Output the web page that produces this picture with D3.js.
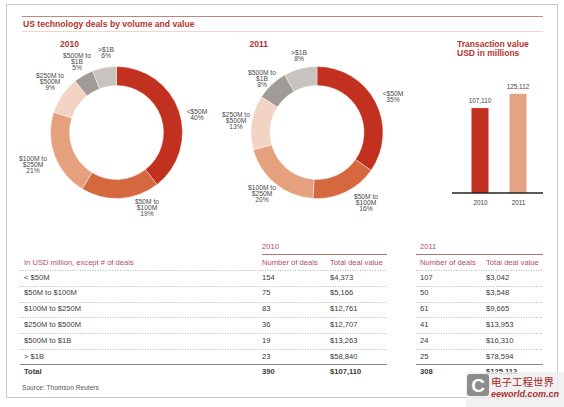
<!DOCTYPE html>
<html>
<head>
<meta charset="utf-8">
<script src="https://cdn.jsdelivr.net/npm/d3@7"></script>
<style>
body { margin: 0; background: #fff; }
svg { display: block; font-family: "Liberation Sans", Arial, Helvetica, sans-serif; }
</style>
</head>
<body>
<div id="chart"></div>
<script>
// data
var categories = ["< $50M", "$50M to $100M", "$100M to $250M", "$250M to $500M", "$500M to $1B", "> $1B"];
var donutLabels = [["<$50M"], ["$50M to", "$100M"], ["$100M to", "$250M"], ["$250M to", "$500M"], ["$500M to", "$1B"], [">$1B"]];
var deals2010 = [154, 75, 83, 36, 19, 23];
var value2010 = [4373, 5166, 12761, 12707, 13263, 58840];
var deals2011 = [107, 50, 61, 41, 24, 25];
var value2011 = [3042, 3548, 9665, 13953, 16310, 78594];
var pct2010 = [40, 19, 21, 9, 5, 6];
var pct2011 = [35, 16, 20, 13, 8, 8];
var years = ["2010", "2011"];
var totalValue = [107110, 125112];

var sliceColors = ["#c2311f", "#d5683f", "#e5a07e", "#f3d4c3", "#a19b97", "#c9c3bf"];
var barColors = ["#c2311f", "#e4a385"];
var red = "#b5342f", pink = "#b84a5c", ink = "#3a3a3a";

var width = 564, height = 407;

var svg = d3.select("#chart").append("svg")
	.attr("width", width)
	.attr("height", height);

// frame + title
svg.append("rect")
	.attr("x", 6.5).attr("y", 4.5)
	.attr("width", 551).attr("height", 393)
	.attr("fill", "none")
	.attr("stroke", "#c9c9c9");

svg.append("line").attr("x1", 22).attr("x2", 543).attr("y1", 16.5).attr("y2", 16.5)
	.attr("stroke", "#b98a80");
svg.append("line").attr("x1", 22).attr("x2", 543).attr("y1", 31.5).attr("y2", 31.5)
	.attr("stroke", "#ecd6cf");

svg.append("text")
	.attr("x", 23).attr("y", 27)
	.attr("font-size", 8.6).attr("font-weight", "bold")
	.attr("fill", red)
	.text("US technology deals by volume and value");

// donuts
var pie = d3.pie().sort(null).value(function(d){ return d; });
var arc = d3.arc().innerRadius(47).outerRadius(66);

var offsets2010 = [[80.5,-18.5],[30.5,71.5],[-83.5,28.5],[-66.5,-54.5],[-39.5,-74.5],[-10.5,-80.5]];
var offsets2011 = [[76,-36.5],[49,66.5],[-55,57.5],[-81,-15.5],[-55,-57.5],[-18,-77.5]];

function drawDonut(cx, cy, year, yearX, deals, pcts, offsets) {
	svg.append("text")
		.attr("x", yearX).attr("y", 47)
		.attr("font-size", 8.5).attr("font-weight", "bold")
		.attr("fill", red)
		.text(year);

	var g = svg.append("g")
		.attr("transform", "translate(" + cx + "," + cy + ")");

	g.selectAll("path")
		.data(pie(deals))
		.enter().append("path")
		.attr("d", arc)
		.attr("fill", function(d, i){ return sliceColors[i]; })
		.attr("stroke", "#fff")
		.attr("stroke-width", 0.4);

	var lab = g.selectAll("text.lab")
		.data(donutLabels)
		.enter().append("text")
		.attr("class", "lab")
		.attr("text-anchor", "middle")
		.attr("font-size", 6.7)
		.attr("fill", "#4a4a4a")
		.attr("transform", function(d, i){ return "translate(" + offsets[i][0] + "," + offsets[i][1] + ")"; });

	lab.each(function(lines, i) {
		var t = d3.select(this);
		lines.concat([pcts[i] + "%"]).forEach(function(s, k) {
			t.append("tspan").attr("x", 0).attr("y", k * 6).text(s);
		});
	});
}

drawDonut(116.5, 132.5, years[0], 60, deals2010, pct2010, offsets2010);
drawDonut(317, 132.5, years[1], 249.5, deals2011, pct2011, offsets2011);

// bar chart
svg.append("text")
	.attr("x", 457).attr("y", 47)
	.attr("font-size", 8.5).attr("font-weight", "bold")
	.attr("fill", red)
	.selectAll("tspan")
	.data(["Transaction value", "USD in millions"])
	.enter().append("tspan")
	.attr("x", 457).attr("dy", function(d, i){ return i ? 8.5 : 0; })
	.text(function(d){ return d; });

var bx = d3.scalePoint().domain(years).range([461, 537]).padding(0.5);
var by = d3.scaleLinear().domain([0, 140000]).range([193, 82]);
var barW = 17;

svg.selectAll("rect.bar")
	.data(totalValue)
	.enter().append("rect")
	.attr("class", "bar")
	.attr("x", function(d, i){ return bx(years[i]) - barW / 2; })
	.attr("y", function(d){ return by(d); })
	.attr("width", barW)
	.attr("height", function(d){ return by(0) - by(d); })
	.attr("fill", function(d, i){ return barColors[i]; });

svg.selectAll("text.barval")
	.data(totalValue)
	.enter().append("text")
	.attr("class", "barval")
	.attr("x", function(d, i){ return bx(years[i]); })
	.attr("y", function(d){ return by(d) - 5; })
	.attr("text-anchor", "middle")
	.attr("font-size", 6.4)
	.attr("fill", "#444")
	.text(d3.format(","));

var xAxis = svg.append("g")
	.attr("transform", "translate(0," + by(0) + ")")
	.call(d3.axisBottom(bx).tickSize(0).tickPadding(7));
xAxis.select(".domain").remove();
xAxis.append("line").attr("x1", 452).attr("x2", 543)
	.attr("stroke", "#222").attr("stroke-width", 1.4);
xAxis.selectAll(".tick text")
	.attr("font-family", "Liberation Sans, Arial, sans-serif")
	.attr("font-size", 6.4).attr("fill", "#444");

// table
var rowY = d3.scaleLinear().domain([0, 1]).range([279.5, 295.3]);
var cols = [24, 262, 330, 420, 486];

svg.append("text").attr("x", cols[1]).attr("y", 248.5)
	.attr("font-size", 7.6).attr("fill", pink).text(years[0]);
svg.append("text").attr("x", cols[3]).attr("y", 248.5)
	.attr("font-size", 7.6).attr("fill", pink).text(years[1]);
svg.append("line").attr("x1", 262).attr("x2", 387).attr("y1", 254.5).attr("y2", 254.5)
	.attr("stroke", "#a8786f");
svg.append("line").attr("x1", 416).attr("x2", 543).attr("y1", 254.5).attr("y2", 254.5)
	.attr("stroke", "#a8786f");

var headers = ["In USD million, except # of deals", "Number of deals", "Total deal value", "Number of deals", "Total deal value"];
svg.selectAll("text.hdr")
	.data(headers)
	.enter().append("text")
	.attr("class", "hdr")
	.attr("x", function(d, i){ return cols[i]; })
	.attr("y", 264.5)
	.attr("font-size", 7.6)
	.attr("fill", pink)
	.text(function(d){ return d; });

var money = function(v){ return "$" + d3.format(",")(v); };
var rows = categories.map(function(c, i) {
	return [c, deals2010[i], money(value2010[i]), deals2011[i], money(value2011[i])];
});
rows.push(["Total", d3.sum(deals2010), money(d3.sum(value2010)), d3.sum(deals2011), money(totalValue[1])]);

// separators
[[20, 387], [416, 543]].forEach(function(seg) {
	svg.selectAll(null)
		.data(d3.range(6))
		.enter().append("line")
		.attr("x1", seg[0]).attr("x2", seg[1])
		.attr("y1", function(i){ return Math.round(rowY(i) - 9.5) + 0.5; })
		.attr("y2", function(i){ return Math.round(rowY(i) - 9.5) + 0.5; })
		.attr("stroke", "#b5b5b5")
		.attr("stroke-dasharray", "1,1.5");
	svg.append("line")
		.attr("x1", seg[0]).attr("x2", seg[1])
		.attr("y1", Math.round(rowY(6) - 10) + 0.5).attr("y2", Math.round(rowY(6) - 10) + 0.5)
		.attr("stroke", "#8a8a8a");
});

var rowG = svg.selectAll("g.row")
	.data(rows)
	.enter().append("g")
	.attr("class", "row")
	.attr("transform", function(d, i){ return "translate(0," + rowY(i) + ")"; });

rowG.selectAll("text")
	.data(function(d, i){ return d.map(function(v){ return { v: v, total: i === 6 }; }); })
	.enter().append("text")
	.attr("x", function(d, i){ return cols[i]; })
	.attr("font-size", 7.6)
	.attr("font-weight", function(d){ return d.total ? "bold" : "normal"; })
	.attr("fill", ink)
	.text(function(d){ return d.v; });

svg.append("text")
	.attr("x", 22).attr("y", 390)
	.attr("font-size", 6.6).attr("fill", "#555")
	.text("Source: Thomson Reuters");

// watermark (sits over the last total, as in the picture)
var wm = svg.append("g");
wm.append("rect").attr("x", 466).attr("y", 372).attr("width", 98).attr("height", 35)
	.attr("fill", "#eeeeee").attr("opacity", 0.8);
wm.append("rect").attr("x", 467).attr("y", 374).attr("width", 22).attr("height", 22).attr("rx", 3)
	.attr("fill", "#8c8c8c");
wm.append("text").attr("x", 478).attr("y", 392).attr("text-anchor", "middle")
	.attr("font-size", 19).attr("font-weight", "bold").attr("fill", "#fff").text("C");
wm.append("text").attr("x", 491).attr("y", 386)
	.attr("font-family", "Noto Sans CJK SC").attr("font-size", 10.5).attr("fill", "#a8262b")
	.text("电子工程世界");
wm.append("text").attr("x", 491).attr("y", 397)
	.attr("font-size", 9).attr("font-style", "italic").attr("font-weight", "bold").attr("fill", "#b03030")
	.text("eeworld.com.cn");
</script>
</body>
</html>
